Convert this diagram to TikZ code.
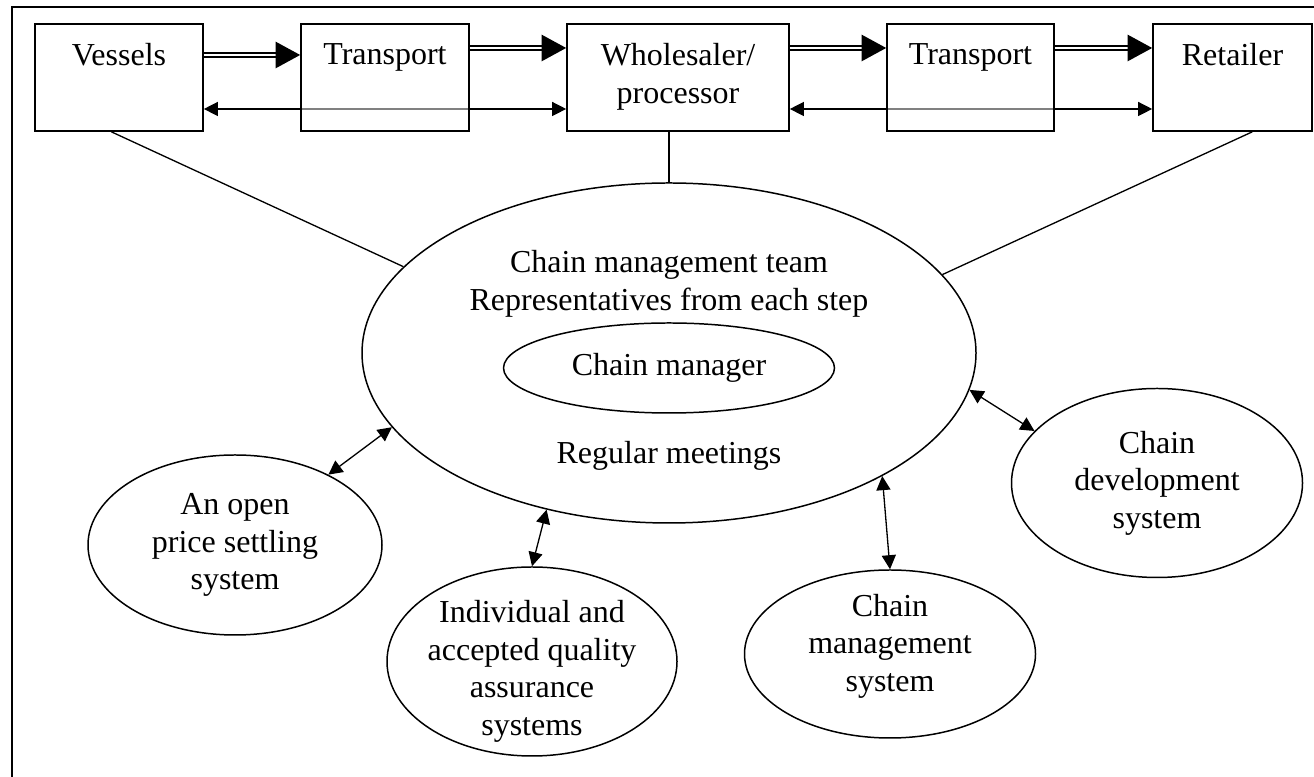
\documentclass[tikz,border=0pt]{standalone}
\usepackage{fontspec}
\setmainfont{Liberation Serif}
\usetikzlibrary{shapes,arrows.meta,positioning,calc,backgrounds}

\begin{document}
\begin{tikzpicture}[
  stepbox/.style={draw, line width=0.95pt, minimum height=2.14cm, inner sep=0pt, minimum width=#1},
  transp/.style={fill=white, fill opacity=0.5},
  boxtext/.style={anchor=north, inner sep=0pt, align=center, font=\fontsize{18.2}{21.3}\selectfont},
  txt/.style={inner sep=0pt, align=center, font=\fontsize{18.2}{21.3}\selectfont},
  bubble/.style 2 args={draw, ellipse, line width=0.85pt, inner sep=0pt,
                        minimum width=#1, minimum height=#2, font=\fontsize{18.2}{21.3}\selectfont},
  flow/.style={double, line width=0.95pt, double distance=1.3pt, -{Triangle[length=14pt,width=15pt]}},
  info/.style={line width=0.75pt, {Triangle[length=8pt,width=8pt]}-{Triangle[length=8pt,width=8pt]}},
  link/.style={line width=0.75pt}]

  \useasboundingbox (0,0) rectangle (26.28,15.54);
  % frame (top and left edge only)
  \draw[line width=0.8pt] (0.24,0) -- (0.24,15.4) -- (26.28,15.4);

  % the chain steps
  \node[stepbox=3.36cm]         (vessels)    at (2.38,13.99)  {};
  \node[stepbox=3.36cm, transp] (transportA) at (7.70,13.99)  {};
  \node[stepbox=4.44cm]         (wholesaler) at (13.56,13.99) {};
  \node[stepbox=3.34cm, transp] (transportB) at (19.41,13.99) {};
  \node[stepbox=3.18cm]         (retailer)   at (24.65,13.99) {};

  \node[boxtext, below=0.4cm of vessels.north]    (vessels-t)    {Vessels};
  \node[boxtext, below=0.4cm of transportA.north] (transportA-t) {Transport};
  \node[boxtext, below=0.4cm of wholesaler.north] (wholesaler-t) {Wholesaler/\\processor};
  \node[boxtext, below=0.4cm of transportB.north] (transportB-t) {Transport};
  \node[boxtext, below=0.4cm of retailer.north]   (retailer-t)   {Retailer};

  % goods flow
  \draw[flow] ([yshift=0.45cm]vessels.east)    -- ([yshift=0.45cm]transportA.west);
  \draw[flow] ([yshift=0.59cm]transportA.east) -- ([yshift=0.59cm]wholesaler.west);
  \draw[flow] ([yshift=0.59cm]wholesaler.east) -- ([yshift=0.59cm]transportB.west);
  \draw[flow] ([yshift=0.59cm]transportB.east) -- ([yshift=0.59cm]retailer.west);

  % information flow, behind the transport boxes
  \begin{scope}[on background layer]
    \draw[info] ([yshift=-0.63cm]vessels.east)    -- ([yshift=-0.63cm]wholesaler.west);
    \draw[info] ([yshift=-0.63cm]wholesaler.east) -- ([yshift=-0.63cm]retailer.west);
  \end{scope}

  % management team
  \node[bubble={12.28cm}{6.8cm}] (team) at (13.38,8.48) {};
  \node[txt] (team-t) at (13.38,9.86) {Chain management team\\Representatives from each step};
  \node[bubble={6.62cm}{1.8cm}] (manager) at (13.38,8.18) {Chain manager};
  \node[txt] (meetings) at (13.38,6.43) {Regular meetings};

  \draw[link] (vessels.-98) -- (team.162);
  \draw[link] (team.north) -- (team.north |- wholesaler.south);
  \draw[link] (retailer.-70) -- (team.16);

  % supporting systems
  \node[bubble={5.88cm}{3.6cm}]  (price)   at (4.70,4.64)  {};
  \node[bubble={5.8cm}{3.78cm}]  (quality) at (10.64,2.31) {};
  \node[bubble={5.82cm}{3.36cm}] (mgmt)    at (17.80,2.46) {};
  \node[bubble={5.82cm}{3.78cm}] (develop) at (23.14,5.88) {};

  \node[txt]              (price-t)   at (price)   {An open\\price settling\\system};
  \node[txt, yshift=-0.2cm] (quality-t) at (quality) {Individual and\\accepted quality\\assurance\\systems};
  \node[txt, yshift=0.16cm] (mgmt-t)    at (mgmt)    {Chain\\management\\system};
  \node[txt]              (develop-t) at (develop) {Chain\\development\\system};

  \draw[info] (team.195)  -- (price.37);
  \draw[info] (team.232)  -- (quality.north);
  \draw[info] (team.-30)  -- (mgmt.north);
  \draw[info] (team.-7.6) -- (develop.157.6);

\end{tikzpicture}
\end{document}
